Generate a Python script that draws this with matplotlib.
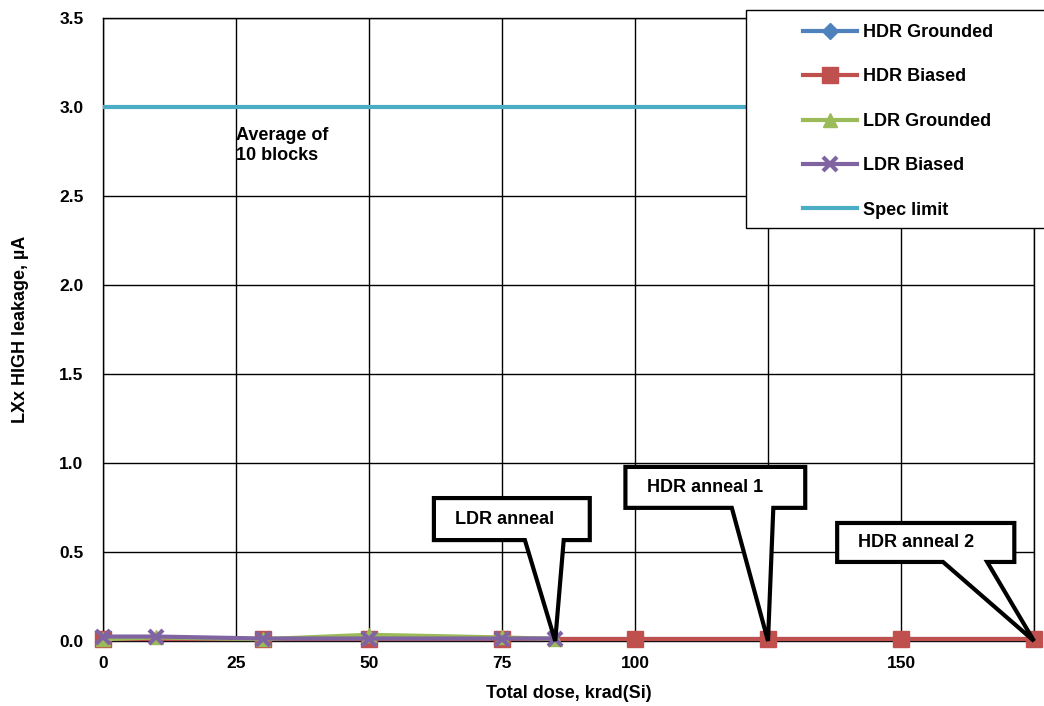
import matplotlib.pyplot as plt
from matplotlib.patches import Polygon, Rectangle

plt.rcParams['font.family'] = ['Liberation Sans', 'DejaVu Sans']
plt.rcParams['font.weight'] = 'bold'

# Data
hdr_dose = [0, 30, 50, 75, 100, 125, 150, 175]
hdr_grounded = [0.01, 0.01, 0.01, 0.01, 0.01, 0.01, 0.01, 0.01]
hdr_biased = [0.012, 0.012, 0.012, 0.012, 0.012, 0.012, 0.012, 0.012]
ldr_dose = [0, 10, 30, 50, 75, 85]
ldr_grounded = [0.01, 0.02, 0.01, 0.035, 0.02, 0.012]
ldr_biased = [0.025, 0.025, 0.014, 0.014, 0.014, 0.014]
spec_x = [0, 175]
spec_limit = [3.0, 3.0]

x_ticks = [0, 25, 50, 75, 100, 125, 150, 175]
x_labels = ['0', '25', '50', '75', '100', '', '150', '']
y_ticks = [0.0, 0.5, 1.0, 1.5, 2.0, 2.5, 3.0, 3.5]

# callouts: text, tip dose, tip value
callouts = [
    ('LDR anneal', 85, 0.0),
    ('HDR anneal 1', 125, 0.0),
    ('HDR anneal 2', 175, 0.0),
]

fig = plt.figure(figsize=(10.44, 7.06), dpi=100)
ax = fig.add_axes([103 / 1044, 1 - 641 / 706, 931 / 1044, 623 / 706])

ax.plot(spec_x, spec_limit, color='#4BACC6', lw=3, label='Spec limit', zorder=3)
ax.plot(hdr_dose, hdr_grounded, color='#4F81BD', lw=3, marker='D', ms=8,
        label='HDR Grounded', zorder=4, clip_on=False)
ax.plot(hdr_dose, hdr_biased, color='#C0504D', lw=3, marker='s', ms=12,
        label='HDR Biased', zorder=5, clip_on=False)
ax.plot(ldr_dose, ldr_grounded, color='#9BBB59', lw=3, marker='^', ms=10,
        label='LDR Grounded', zorder=6, clip_on=False)
ax.plot(ldr_dose, ldr_biased, color='#8064A2', lw=3, marker='x', ms=10, mew=3,
        label='LDR Biased', zorder=7, clip_on=False)

ax.set_xlim(0, 175)
ax.set_ylim(0, 3.5)
ax.set_xticks(x_ticks)
ax.set_xticklabels(x_labels)
ax.set_yticks(y_ticks)
ax.set_yticklabels([f'{v:.1f}' for v in y_ticks])
ax.tick_params(length=0, labelsize=12.5, pad=11)
ax.tick_params(axis='y', pad=14)
ax.grid(True, color='black', lw=1)
ax.set_axisbelow(True)
for s in ax.spines.values():
    s.set_color('black')
    s.set_linewidth(1)

ax.set_xlabel('Total dose, krad(Si)', fontsize=13, fontweight='bold', labelpad=10)
ax.set_ylabel('LXx HIGH leakage, µA', fontsize=13, fontweight='bold', labelpad=22)

ax.text(25, 2.89, 'Average of\n10 blocks', fontsize=13, fontweight='bold',
        va='top', ha='left', linespacing=1.25)

# callout boxes in data units: (x0, x1, y_bottom, y_top, base_left, base_right)
boxes = [
    (62.2, 91.5, 0.567, 0.803, 79.3, 86.6),
    (98.2, 132.0, 0.748, 0.978, 118.2, 126.0),
    (138.0, 171.3, 0.444, 0.663, 157.9, 166.2),
]
for (txt, tx, ty), (x0, x1, yb, yt, bl, br) in zip(callouts, boxes):
    pts = [(x0, yb), (x0, yt), (x1, yt), (x1, yb), (br, yb), (tx, ty), (bl, yb)]
    ax.add_patch(Polygon(pts, closed=True, facecolor='white', edgecolor='black',
                         lw=3, zorder=10, clip_on=False, joinstyle='miter'))
    ax.text(x0 + 4, (yb + yt) / 2, txt, fontsize=13, fontweight='bold',
            va='center', ha='left', zorder=11)

# legend frame
fig.patches.append(Rectangle((746 / 1044, 1 - 228 / 706), 310 / 1044, 218 / 706,
                             transform=fig.transFigure, facecolor='white',
                             edgecolor='black', lw=1, zorder=20))
handles, labels = ax.get_legend_handles_labels()
order = [1, 2, 3, 4, 0]
leg = fig.legend([handles[i] for i in order], [labels[i] for i in order],
                 loc='upper left', bbox_to_anchor=(803 / 1044, 1 - 24 / 706),
                 frameon=False, borderpad=0, borderaxespad=0,
                 handlelength=3.0, handletextpad=0.3, labelspacing=1.52,
                 prop={'weight': 'bold', 'size': 13})
leg.set_zorder(21)

fig.savefig('out.png', dpi=100)
